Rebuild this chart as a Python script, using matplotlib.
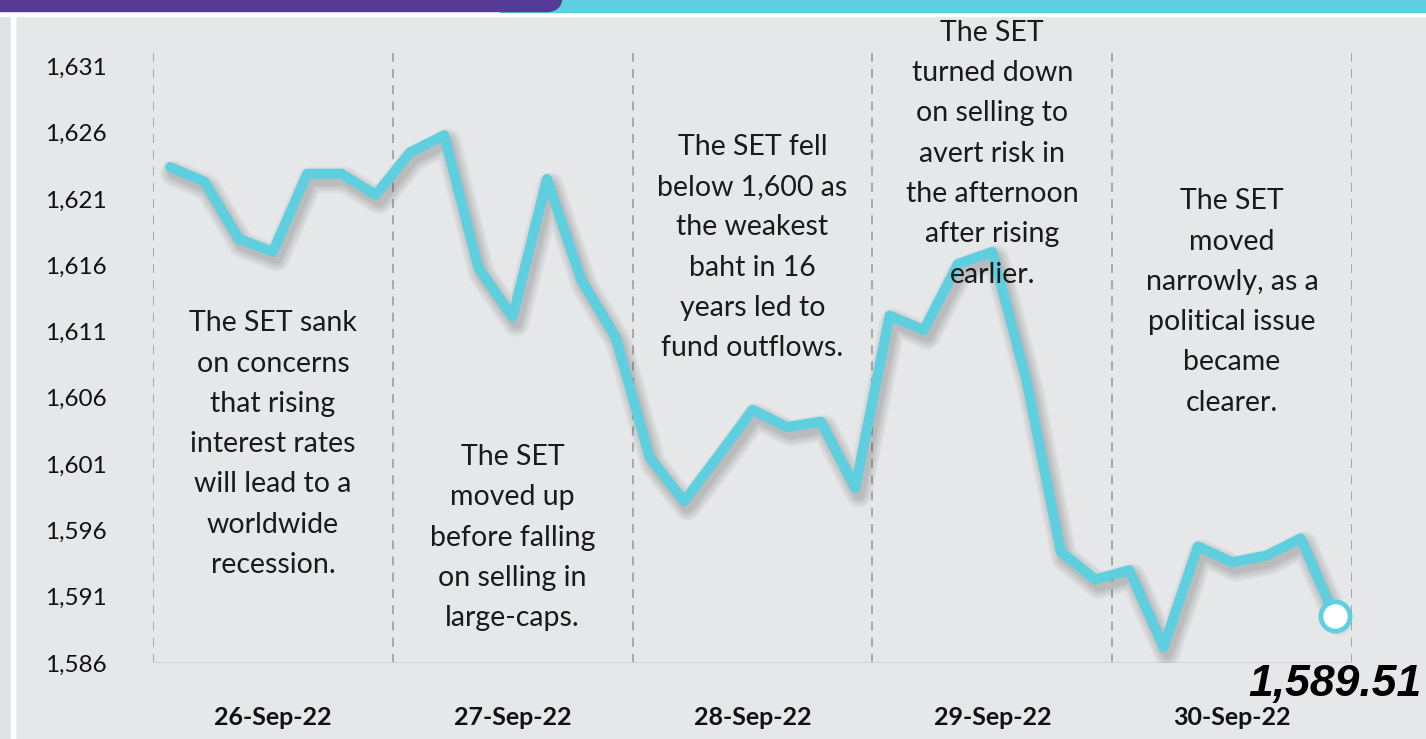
import numpy as np
import matplotlib
matplotlib.use("Agg")
import matplotlib.pyplot as plt
import matplotlib.patheffects as pe
from matplotlib.patches import Rectangle, FancyBboxPatch

plt.rcParams['font.family'] = ['Lato', 'DejaVu Sans']

# SET index, 35 intraday readings over 5 trading days (7 per day)
set_index = [1623.4, 1622.3, 1618.0, 1617.0, 1622.9, 1622.9, 1621.3,
             1624.5, 1625.8, 1615.8, 1612.1, 1622.5, 1614.9, 1610.6,
             1601.5, 1598.2, 1601.6, 1605.1, 1603.8, 1604.2, 1599.2,
             1612.2, 1611.1, 1616.1, 1617.0, 1607.3, 1594.4, 1592.3,
             1593.0, 1587.2, 1594.8, 1593.6, 1594.1, 1595.4, 1589.51]
days = ['26-Sep-22', '27-Sep-22', '28-Sep-22', '29-Sep-22', '30-Sep-22']
per_day = 7
y_ticks = [1586, 1591, 1596, 1601, 1606, 1611, 1616, 1621, 1626, 1631]
notes = [
    "The SET sank\non concerns\nthat rising\ninterest rates\nwill lead to a\nworldwide\nrecession.",
    "The SET\nmoved up\nbefore falling\non selling in\nlarge-caps.",
    "The SET fell\nbelow 1,600 as\nthe weakest\nbaht in 16\nyears led to\nfund outflows.",
    "The SET\nturned down\non selling to\navert risk in\nthe afternoon\nafter rising\nearlier.",
    "The SET\nmoved\nnarrowly, as a\npolitical issue\nbecame\nclearer.",
]
note_tops = [1612.6, 1602.5, 1625.9, 1634.5, 1621.8]

cyan = '#5ecfdf'
purple = '#553a96'
panel = '#e6e7e9'

fig = plt.figure(figsize=(14.26, 7.39), dpi=100)

# background decoration
bg = fig.add_axes([0, 0, 1, 1], zorder=-1)
bg.set_xlim(0, 1426)
bg.set_ylim(739, 0)
bg.axis('off')
bg.add_patch(Rectangle((0, 0), 1426, 739, color=panel))
bg.add_patch(Rectangle((0, 0), 11, 739, color='#dde2e8'))
bg.add_patch(Rectangle((11, 0), 4, 739, color='white'))
bg.add_patch(Rectangle((0, 11), 1426, 5, color='white'))
bg.add_patch(Rectangle((500, 0), 926, 11.5, color=cyan))
bg.add_patch(FancyBboxPatch((-30, -30), 592, 41.5,
                            boxstyle="round,pad=0,rounding_size=16", color=purple))

ax = fig.add_axes([153/1426, 76/739, 1199/1426, 610/739])
ax.set_facecolor('none')
x = np.arange(len(set_index))
n_days = len(days)

shadow = [pe.SimpleLineShadow(offset=(2.5, -4.5), shadow_color='#333', alpha=0.05, linewidth=w)
          for w in (19, 16, 13, 10, 8)]
ax.plot(x, set_index, color=cyan, lw=7.2, solid_joinstyle='round',
        solid_capstyle='round', zorder=3, path_effects=shadow + [pe.Normal()])
ax.plot(x[-1], set_index[-1], 'o', ms=21, mfc='white', mec=cyan, mew=3.4, zorder=4)
ax.annotate(f"{set_index[-1]:,.2f}", (x[-1], set_index[-1]), xytext=(0, -49),
            textcoords='offset points', ha='center', va='center',
            fontsize=32, fontweight='bold', fontstyle='italic',
            family='Liberation Sans', color='black', zorder=5)

for k in range(n_days + 1):
    ax.axvline(-0.5 + k * per_day, color='#a3a3a3', lw=1.3, ls=(0, (5, 4)), zorder=1)
ax.axhline(y_ticks[0], color='#d2d2d2', lw=1.5, zorder=1)

for k, txt in enumerate(notes):
    ax.text(k * per_day + (per_day - 1) / 2, note_tops[k], txt, ha='center', va='top',
            fontsize=20.5, color='#1a1a1a', linespacing=1.68,
            zorder=5, clip_on=False)

ax.set_xlim(-0.5, len(set_index) - 0.5)
ax.set_ylim(1586, 1632)
ax.set_yticks(y_ticks)
ax.set_yticklabels([f"{v:,}" for v in y_ticks], fontsize=17.5, color='#111111')
for lab in ax.get_yticklabels():
    lab.set_horizontalalignment('left')
ax.tick_params(axis='y', length=0, pad=78)
ax.set_xticks([k * per_day + (per_day - 1) / 2 for k in range(n_days)])
ax.set_xticklabels(days, fontsize=18, fontweight='bold', color='#111111')
ax.tick_params(axis='x', length=0, pad=31)
for s in ax.spines.values():
    s.set_visible(False)

fig.savefig('out.png', dpi=100)
